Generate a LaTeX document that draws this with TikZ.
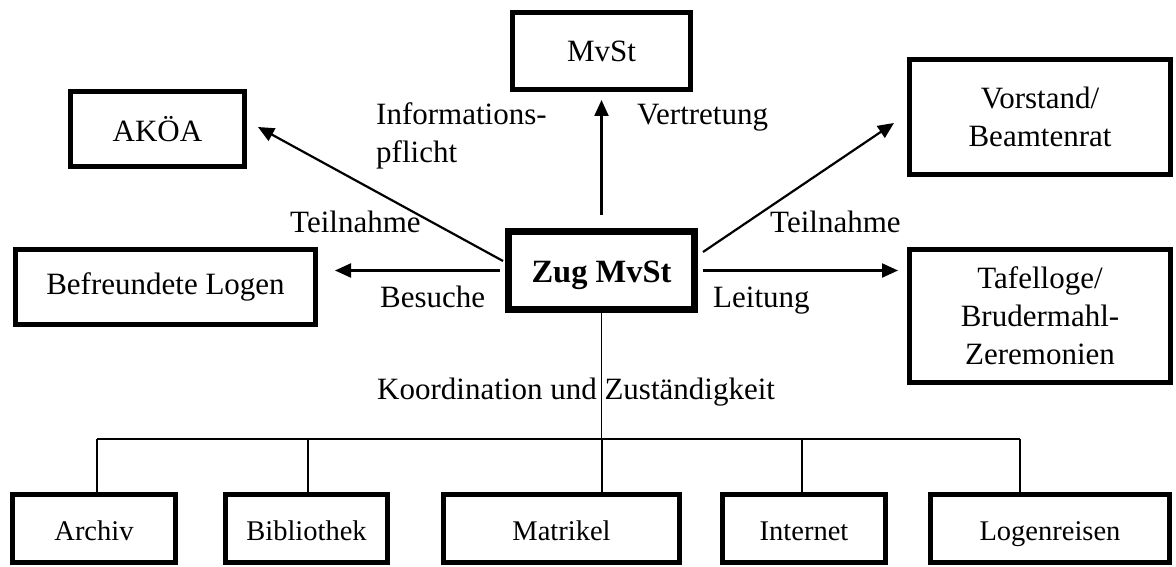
\documentclass[tikz,border=0pt]{standalone}
\usepackage{fontspec}
\setmainfont{Liberation Serif}
\usetikzlibrary{arrows.meta}
\tikzset{
  box/.style={draw, line width=5pt, rectangle, inner sep=0pt, align=center,
    font=\fontsize{31}{38}\selectfont},
  mainbox/.style={box, line width=7pt, text height=28pt, text depth=5pt,
    font=\fontsize{32.5}{38}\selectfont\bfseries},
  lowbox/.style={box, minimum height=68pt, text height=26pt, text depth=3pt,
    font=\fontsize{28.5}{34}\selectfont},
  arr/.style={line width=2.2pt, -{Triangle[length=16pt,width=14pt]}},
  bus/.style={line width=1.6pt},
  lbl/.style={inner sep=0pt, font=\fontsize{31}{38}\selectfont}
}
\begin{document}
\begin{tikzpicture}[x=1pt,y=-1pt]
\useasboundingbox (0,0) rectangle (1176,567);
% upper boxes
\node[box, minimum width=178pt, minimum height=77pt] (mvst) at (601.5,51) {MvSt};
\node[box, minimum width=174pt, minimum height=75pt] (akoa) at (157.5,129) {AKÖA};
\node[box, minimum width=300pt, minimum height=75pt] (bef) at (165.5,287) {Befreundete Logen};
\node[mainbox, minimum width=186pt, minimum height=78pt] (zug) at (601.5,270.5) {Zug MvSt};
\node[box, minimum width=261pt, minimum height=115pt] (vor) at (1040,117) {Vorstand/\\Beamtenrat};
\node[box, minimum width=261pt, minimum height=133pt] (taf) at (1040,316) {Tafelloge/\\Brudermahl-\\Zeremonien};
% lower boxes
\node[lowbox, minimum width=163pt] (archiv) at (94,528.5) {Archiv};
\node[lowbox, minimum width=162pt] (bib) at (306.5,528.5) {Bibliothek};
\node[lowbox, minimum width=236pt] (mat) at (561.5,528.5) {Matrikel};
\node[lowbox, minimum width=163pt] (inet) at (804,528.5) {Internet};
\node[lowbox, minimum width=239pt] (reisen) at (1050,528.5) {Logenreisen};
% arrows
\draw[arr] ([yshift=13pt]zug.north) -- ([yshift=-8pt]zug.north |- mvst.south);
\draw[arr] ([xshift=-2pt,yshift=9.5pt]zug.west) -- ([xshift=11pt,yshift=2pt]akoa.east);
\draw[arr] ([xshift=-5pt]zug.west) -- ([xshift=17pt]zug.west -| bef.east);
\draw[arr] ([xshift=5pt,yshift=18.5pt]zug.east) -- ([xshift=-13pt,yshift=-6pt]vor.west);
\draw[arr] ([xshift=5pt]zug.east) -- ([xshift=-9pt]zug.east -| taf.west);
% labels
\node[lbl, anchor=base west, align=left] (info) at (376,163) {Informations-\\pflicht};
\node[lbl, anchor=base west] (vert) at (637,125) {Vertretung};
\node[lbl, anchor=base west] (teilL) at (290,233) {Teilnahme};
\node[lbl, anchor=base west] (bes) at (380,307) {Besuche};
\node[lbl, anchor=base west] (teilR) at (770,233) {Teilnahme};
\node[lbl, anchor=base west] (leit) at (713,307) {Leitung};
\node[lbl, anchor=base west] (koord) at (377,399) {Koordination und Zuständigkeit};
% bus
\coordinate (d1) at (97,439);
\coordinate (d2) at (308,439);
\coordinate (d3) at (602,439);
\coordinate (d4) at (802,439);
\coordinate (d5) at (1020,439);
\draw[bus] (zug.south) -- (zug.south |- d1);
\draw[bus] (d1) -- (d5);
\draw[bus] (d1) -- (d1 |- archiv.north);
\draw[bus] (d2) -- (d2 |- bib.north);
\draw[bus] (d3) -- (d3 |- mat.north);
\draw[bus] (d4) -- (d4 |- inet.north);
\draw[bus] (d5) -- (d5 |- reisen.north);
\end{tikzpicture}
\end{document}
